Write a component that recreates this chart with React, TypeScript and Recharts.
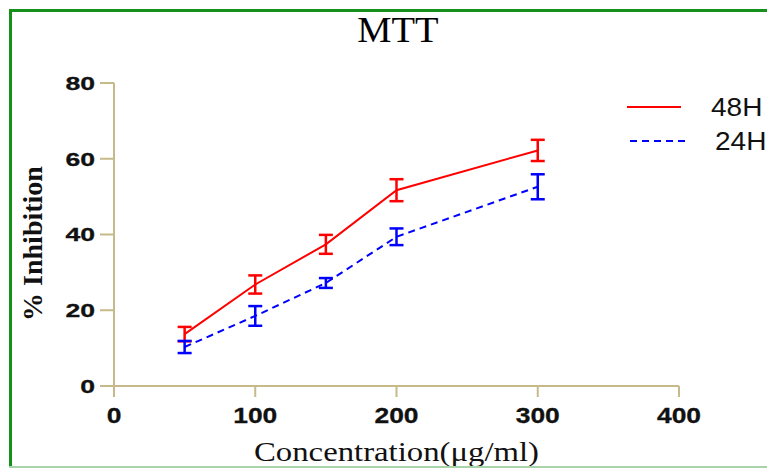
import React from 'react';
import { LineChart, Line, XAxis, YAxis, ErrorBar, Label } from 'recharts';

// concentrations (µg/ml)
const concentrations = [50, 100, 150, 200, 300];
// % inhibition, mean and error
const inhibition48 = [13.7, 26.8, 37.4, 51.7, 62.2];
const error48 = [1.9, 2.4, 2.5, 2.9, 2.8];
const inhibition24 = [10.3, 18.5, 27.2, 39.4, 52.6];
const error24 = [1.6, 2.6, 1.3, 2.2, 3.3];

const xTicks = [0, 100, 200, 300, 400];
const yTicks = [0, 20, 40, 60, 80];

const AXIS = '#c6b98a';
const SANS = '"Liberation Sans", Arial, sans-serif';
const SERIF = '"Liberation Serif", "Times New Roman", serif';

const data = concentrations.map((c, i) => ({
  conc: c,
  h48: inhibition48[i],
  e48: error48[i],
  h24: inhibition24[i],
  e24: error24[i],
}));

// the original text is stretched sideways, so ticks get a scaleX
const XTick = ({ x, y, payload }: any) => (
  <g transform={`translate(${x},${y}) scale(1.2,1)`}>
    <text x={0} y={0} dy="0.71em" textAnchor="middle" fontFamily={SANS} fontWeight={700} fontSize={22} fill="#111" stroke="#111" strokeWidth={0.3}>
      {payload.value}
    </text>
  </g>
);

const YTick = ({ x, y, payload }: any) => (
  <g transform={`translate(${x},${y}) scale(1.4,1)`}>
    <text x={0} y={0} dy="0.355em" textAnchor="end" fontFamily={SANS} fontWeight={700} fontSize={19} fill="#111" stroke="#111" strokeWidth={0.3}>
      {payload.value}
    </text>
  </g>
);

const LegendBox = () => (
  <div style={{ position: 'absolute', left: 627, top: 90, fontFamily: SANS, fontSize: 25, color: '#111', whiteSpace: 'nowrap' }}>
    <div style={{ display: 'flex', alignItems: 'center', height: 34 }}>
      <svg width={84} height={10}>
        <line x1={0} y1={5} x2={54} y2={5} stroke="#ff0000" strokeWidth={2} />
      </svg>
      <span style={{ display: 'inline-block', transform: 'scaleX(1.12)', transformOrigin: 'left' }}>48H</span>
    </div>
    <div style={{ display: 'flex', alignItems: 'center', height: 34 }}>
      <svg width={88} height={10}>
        <line x1={3} y1={5} x2={58} y2={5} stroke="#0000ff" strokeWidth={2} strokeDasharray="7 5" />
      </svg>
      <span style={{ display: 'inline-block', transform: 'scaleX(1.12)', transformOrigin: 'left' }}>24H</span>
    </div>
  </div>
);

export default function App() {
  return (
    <div style={{ position: 'absolute', left: 0, top: 0, width: 767, height: 468, background: '#fff', overflow: 'hidden' }}>
      {/* green frame */}
      <div style={{ position: 'absolute', left: 9, top: 9, width: 800, height: 457, borderLeft: '3px solid #15901a', borderTop: '3px solid #15901a' }} />
      <div style={{ position: 'absolute', left: 0, width: 767, top: 11, textAlign: 'center', paddingLeft: 28, boxSizing: 'border-box', fontFamily: SERIF, fontSize: 35 }}>
        <span style={{ display: 'inline-block', transform: 'scaleX(1.1)' }}>MTT</span>
      </div>
      <div style={{ position: 'absolute', left: 0, top: 0 }}>
        <LineChart width={767} height={468} data={data} margin={{ top: 83, right: 88, left: 0, bottom: 0 }}>
          <XAxis
            dataKey="conc"
            type="number"
            domain={[0, 400]}
            ticks={xTicks}
            height={82}
            tickSize={11}
            tickMargin={10}
            stroke={AXIS}
            strokeWidth={2}
            tick={<XTick />}
          >
            <Label
              content={({ viewBox }: any) => {
                const cx = viewBox.x + viewBox.width / 2;
                const cy = viewBox.y + viewBox.height - 7;
                return (
                  <g transform={`translate(${cx},${cy}) scale(1.17,1)`}>
                    <text x={0} y={0} textAnchor="middle" fontFamily={SERIF} fontSize={28} fill="#111">
                      Concentration(μg/ml)
                    </text>
                  </g>
                );
              }}
            />
          </XAxis>
          <YAxis
            type="number"
            domain={[0, 80]}
            ticks={yTicks}
            width={114}
            tickSize={14}
            tickMargin={5}
            stroke={AXIS}
            strokeWidth={2}
            tick={<YTick />}
          >
            <Label
              content={({ viewBox }: any) => {
                const cx = 32;
                const cy = viewBox.y + viewBox.height / 2 + 9;
                return (
                  <text
                    x={cx}
                    y={cy}
                    transform={`rotate(-90 ${cx} ${cy})`}
                    textAnchor="middle"
                    dominantBaseline="central"
                    fontFamily={SERIF}
                    fontWeight={700}
                    fontSize={28}
                    fill="#111"
                  >
                    % Inhibition
                  </text>
                );
              }}
            />
          </YAxis>
          <Line
            type="linear"
            dataKey="h48"
            name="48H"
            stroke="#ff0000"
            strokeWidth={2}
            dot={false}
            isAnimationActive={false}
          >
            <ErrorBar dataKey="e48" direction="y" width={7} stroke="#ff0000" strokeWidth={2.5} />
          </Line>
          <Line
            type="linear"
            dataKey="h24"
            name="24H"
            stroke="#0000ff"
            strokeWidth={2}
            strokeDasharray="7 5"
            dot={false}
            isAnimationActive={false}
          >
            <ErrorBar dataKey="e24" direction="y" width={7} stroke="#0000ff" strokeWidth={2.5} />
          </Line>
        </LineChart>
      </div>
      <div style={{ position: 'absolute', left: 9, top: 466, width: 800, height: 2, background: '#a9d3a9' }} />
      <LegendBox />
    </div>
  );
}
